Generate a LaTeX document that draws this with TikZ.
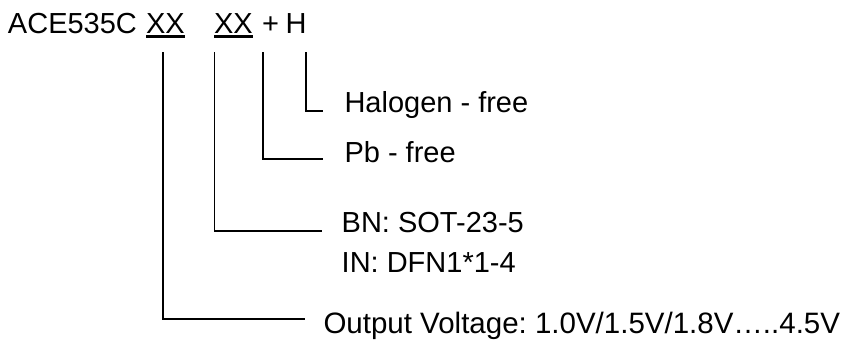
\documentclass[tikz,border=0pt]{standalone}
\usepackage{fontspec}
\setmainfont{Liberation Sans}
\frenchspacing
\begin{document}
\begin{tikzpicture}[x=1pt,y=-1pt,
  txt/.style={anchor=base west,inner sep=0pt,outer sep=0pt,font=\fontsize{29}{34}\selectfont},
  conn/.style={line width=1.5pt},
  uline/.style={line width=2.4pt}]
\useasboundingbox (0,0) rectangle (841,341);
% part number
\node[txt] (pn) at (8,33) {ACE535C};
\node[txt] (xa) at (146,33) {XX};
\node[txt] (xb) at (214,33) {XX};
\node[txt] (plus) at (262,33) {+};
\node[txt] (h) at (285.5,33) {H};
\draw[uline] ([yshift=-3.5pt]xa.base west) -- ([yshift=-3.5pt]xa.base east);
\draw[uline] ([yshift=-3.5pt]xb.base west) -- ([yshift=-3.5pt]xb.base east);
% connector tops
\coordinate (t1) at (163,52);
\coordinate (t2) at (214.5,52);
\coordinate (t3) at (263,52);
\coordinate (t4) at (306,52);
% labels
\node[txt] (halo) at (344.5,112) {Halogen - free};
\node[txt] (pb) at (344.5,162) {Pb - free};
\node[txt] (bn) at (341.7,232) {BN: SOT-23-5};
\node[txt] (in) at (341.7,272) {IN: DFN1*1-4};
\node[txt,font=\fontsize{29.5}{34}\selectfont] (out) at (323.5,333) {Output Voltage: 1.0V/1.5V/1.8V…..4.5V};
% connector ends
\coordinate (e4) at (323,111);
\coordinate (e3) at (323,159);
\coordinate (e2) at (322,231);
\coordinate (e1) at (305,319);
\draw[conn] (t4) |- (e4);
\draw[conn] (t3) |- (e3);
\draw[conn] (t2) |- (e2);
\draw[conn] (t1) |- (e1);
\end{tikzpicture}
\end{document}
